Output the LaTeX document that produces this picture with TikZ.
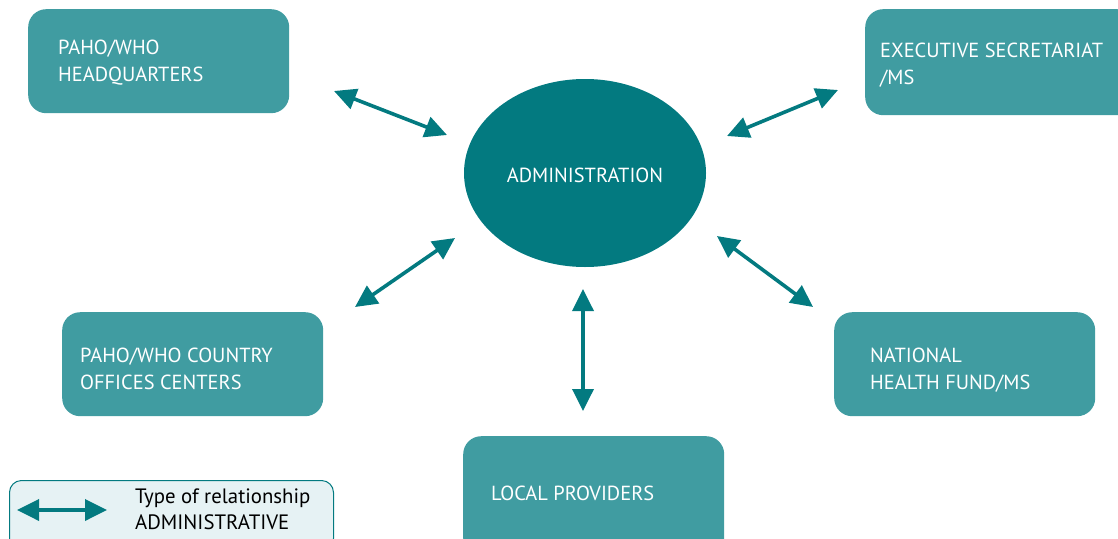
\documentclass[tikz,border=0pt]{standalone}
\usepackage{fontspec}
\setmainfont{PT Sans}
\usetikzlibrary{shapes.geometric,arrows.meta}
\definecolor{boxteal}{HTML}{409CA1}
\definecolor{darkteal}{HTML}{037A80}
\definecolor{legfill}{HTML}{E6F2F4}
\tikzset{
  x=1pt,y=-1pt,
  unit/.style={draw=none,fill=boxteal,rounded corners=18pt,anchor=north west,inner sep=0pt},
  lbl/.style={anchor=west,text=white,font=\fontsize{20.4}{27}\selectfont,align=left,inner sep=0pt},
  rel/.style={draw=darkteal,line width=3.6pt,{Triangle[length=22pt,width=21pt]}-{Triangle[length=22pt,width=21pt]}},
}
\begin{document}
\begin{tikzpicture}
\useasboundingbox (0,0) rectangle (1118,538);
\node[unit,minimum width=261pt,minimum height=104pt] (hq) at (28,9) {};
\node[lbl] (hqt) at (58,63) {PAHO/WHO\\HEADQUARTERS};
\node[unit,minimum width=270pt,minimum height=106pt] (ex) at (865,9) {};
\node[lbl] (ext) at (880,65) {EXECUTIVE SECRETARIAT\\/MS};
\node[unit,minimum width=261pt,minimum height=104pt] (co) at (62,312) {};
\node[lbl] (cot) at (80,369) {PAHO/WHO COUNTRY\\OFFICES CENTERS};
\node[unit,minimum width=261pt,minimum height=104pt] (nh) at (834,312) {};
\node[lbl] (nht) at (870,370) {NATIONAL\\HEALTH FUND/MS};
\node[unit,minimum width=261pt,minimum height=120pt] (lp) at (463,436) {};
\node[lbl] (lpt) at (491,493) {LOCAL PROVIDERS};
\node[ellipse,fill=darkteal,minimum width=242pt,minimum height=188pt,inner sep=0pt] (ad) at (585,173) {};
\node[lbl,anchor=center] (adt) at (585,175) {ADMINISTRATION};
% connectors
\coordinate (a1) at (334,91); \coordinate (b1) at (447,135);
\coordinate (a2) at (838,90); \coordinate (b2) at (727,136);
\coordinate (a3) at (355,307); \coordinate (b3) at (455,238);
\coordinate (a4) at (813,307); \coordinate (b4) at (717,236);
\coordinate (a5) at (583,411); \coordinate (b5) at (583,289);
\draw[rel] (a1) -- (b1);
\draw[rel] (a2) -- (b2);
\draw[rel] (a3) -- (b3);
\draw[rel] (a4) -- (b4);
\draw[rel] (a5) -- (b5);
% legend
\node[draw=darkteal,line width=1pt,fill=legfill,rounded corners=12pt,anchor=north west,minimum width=324pt,minimum height=70pt,inner sep=0pt] (leg) at (9,480) {};
\coordinate (la) at (17,510); \coordinate (lb) at (107,510);
\draw[rel] (la) -- (lb);
\node[anchor=west,inner sep=0pt,align=left,font=\fontsize{20.8}{26}\selectfont] (legt) at (135,509) {Type of relationship\\ADMINISTRATIVE};
\end{tikzpicture}
\end{document}
